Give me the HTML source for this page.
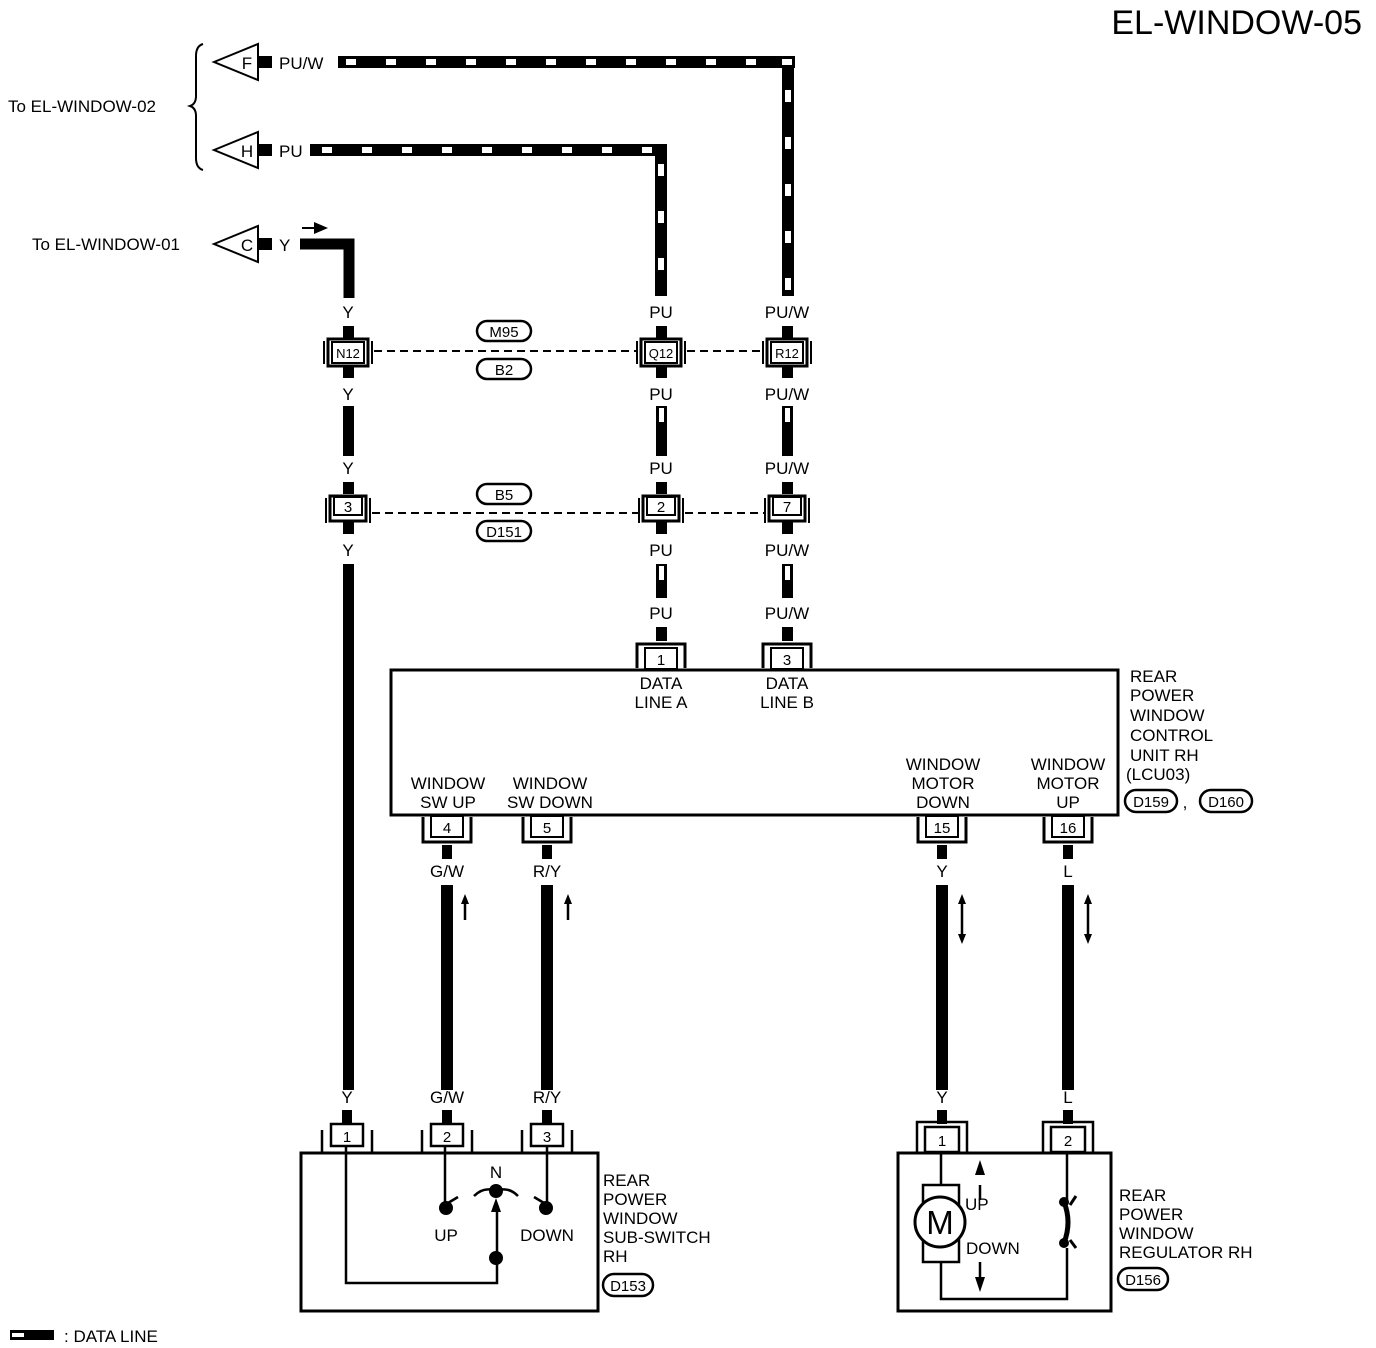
<!DOCTYPE html>
<html><head><meta charset="utf-8"><style>
body{margin:0;background:#fff}
svg{display:block}
text{font-family:"Liberation Sans",sans-serif;fill:#000}
.t{font-size:17px;text-anchor:middle}
.l{font-size:17px}
.s{font-size:15px;text-anchor:middle}
.xs{font-size:13px;text-anchor:middle}
</style></head><body>
<svg width="1376" height="1348" viewBox="0 0 1376 1348" xmlns="http://www.w3.org/2000/svg">
<text x="1362" y="34" style="font-size:34px" text-anchor="end">EL-WINDOW-05</text>

<path d="M203 44 Q196 46 196 56 L196 96 Q196 104 190 106 Q196 108 196 116 L196 158 Q196 168 203 170" fill="none" stroke="#000" stroke-width="2"/>
<text x="8" y="112" class="l">To EL-WINDOW-02</text>
<text x="32" y="250" class="l">To EL-WINDOW-01</text>

<path d="M214 62 L258 44 L258 80 Z" fill="#fff" stroke="#000" stroke-width="2"/>
<text x="247" y="69" class="t">F</text>
<rect x="258" y="56" width="14" height="12"/>
<text x="279" y="69" class="l">PU/W</text>
<rect x="338" y="56" width="457" height="12"/>
<rect x="782" y="56" width="12" height="240"/>
<g fill="#fff">
<rect x="346" y="59" width="10" height="6"/><rect x="386" y="59" width="10" height="6"/><rect x="426" y="59" width="10" height="6"/><rect x="466" y="59" width="10" height="6"/><rect x="506" y="59" width="10" height="6"/><rect x="546" y="59" width="10" height="6"/><rect x="586" y="59" width="10" height="6"/><rect x="626" y="59" width="10" height="6"/><rect x="666" y="59" width="10" height="6"/><rect x="706" y="59" width="10" height="6"/><rect x="746" y="59" width="10" height="6"/><rect x="782" y="59" width="10" height="6"/>
<rect x="785" y="90" width="6" height="12"/><rect x="785" y="137" width="6" height="12"/><rect x="785" y="184" width="6" height="12"/><rect x="785" y="231" width="6" height="12"/><rect x="785" y="278" width="6" height="12"/>
</g>

<path d="M214 150 L258 132 L258 168 Z" fill="#fff" stroke="#000" stroke-width="2"/>
<text x="247" y="157" class="t">H</text>
<rect x="258" y="144" width="14" height="12"/>
<text x="279" y="157" class="l">PU</text>
<rect x="310" y="144" width="357" height="12"/>
<rect x="655" y="144" width="12" height="152"/>
<g fill="#fff">
<rect x="322" y="147" width="10" height="6"/><rect x="362" y="147" width="10" height="6"/><rect x="402" y="147" width="10" height="6"/><rect x="442" y="147" width="10" height="6"/><rect x="482" y="147" width="10" height="6"/><rect x="522" y="147" width="10" height="6"/><rect x="562" y="147" width="10" height="6"/><rect x="602" y="147" width="10" height="6"/><rect x="642" y="147" width="10" height="6"/>
<rect x="658" y="164" width="6" height="12"/><rect x="658" y="211" width="6" height="12"/><rect x="658" y="258" width="6" height="12"/>
</g>

<path d="M214 244 L258 226 L258 262 Z" fill="#fff" stroke="#000" stroke-width="2"/>
<text x="247" y="251" class="t">C</text>
<rect x="258" y="238" width="14" height="12"/>
<text x="279" y="251" class="l">Y</text>
<path d="M300 244 L349 244 L349 298" fill="none" stroke="#000" stroke-width="11"/>
<path d="M302 228 L316 228" stroke="#000" stroke-width="2"/><path d="M314 222 L328 228 L314 234 Z"/>

<text x="348" y="318" class="t">Y</text><text x="661" y="318" class="t">PU</text><text x="787" y="318" class="t">PU/W</text>
<text x="348" y="400" class="t">Y</text><text x="661" y="400" class="t">PU</text><text x="787" y="400" class="t">PU/W</text>
<text x="348" y="474" class="t">Y</text><text x="661" y="474" class="t">PU</text><text x="787" y="474" class="t">PU/W</text>
<text x="348" y="556" class="t">Y</text><text x="661" y="556" class="t">PU</text><text x="787" y="556" class="t">PU/W</text>
<text x="661" y="619" class="t">PU</text><text x="787" y="619" class="t">PU/W</text>

<g>
<rect x="343" y="326" width="11" height="12"/><rect x="343" y="366" width="11" height="12"/>
<rect x="656" y="326" width="11" height="12"/><rect x="656" y="366" width="11" height="12"/>
<rect x="782" y="326" width="11" height="12"/><rect x="782" y="366" width="11" height="12"/>
<rect x="343" y="406" width="11" height="50"/>
<rect x="656" y="406" width="11" height="50"/><rect x="659" y="408" width="5" height="14" fill="#fff"/>
<rect x="782" y="406" width="11" height="50"/><rect x="785" y="408" width="5" height="14" fill="#fff"/>
<rect x="343" y="482" width="11" height="12"/><rect x="343" y="522" width="11" height="12"/>
<rect x="656" y="482" width="11" height="12"/><rect x="656" y="522" width="11" height="12"/>
<rect x="782" y="482" width="11" height="12"/><rect x="782" y="522" width="11" height="12"/>
<rect x="343" y="564" width="11" height="526"/>
<rect x="656" y="564" width="11" height="34"/><rect x="659" y="566" width="5" height="14" fill="#fff"/>
<rect x="782" y="564" width="11" height="34"/><rect x="785" y="566" width="5" height="14" fill="#fff"/>
<rect x="656" y="627" width="11" height="14"/><rect x="782" y="627" width="11" height="14"/>
</g>

<g fill="#fff" stroke="#000" stroke-width="2">
<rect x="328" y="339" width="40" height="27" stroke-width="3"/><rect x="332" y="342" width="32" height="21"/>
<rect x="641" y="339" width="40" height="27" stroke-width="3"/><rect x="645" y="342" width="32" height="21"/>
<rect x="767" y="339" width="40" height="27" stroke-width="3"/><rect x="771" y="342" width="32" height="21"/>
<rect x="330" y="496" width="36" height="25" stroke-width="3"/><rect x="334" y="497" width="28" height="18"/>
<rect x="643" y="496" width="36" height="25" stroke-width="3"/><rect x="647" y="497" width="28" height="18"/>
<rect x="769" y="496" width="36" height="25" stroke-width="3"/><rect x="773" y="497" width="28" height="18"/>
</g>
<g fill="none" stroke="#000" stroke-width="2">
<path d="M324 341 V364 M372 341 V364 M637 341 V364 M685 341 V364 M763 341 V364 M811 341 V364"/>
<path d="M326 498 V523 M370 498 V523 M639 498 V523 M683 498 V523 M765 498 V523 M809 498 V523"/>
</g>
<text x="348" y="358" class="xs">N12</text><text x="661" y="358" class="xs">Q12</text><text x="787" y="358" class="xs">R12</text>
<text x="348" y="512" class="s">3</text><text x="661" y="512" class="s">2</text><text x="787" y="512" class="s">7</text>
<path d="M374 351 H637 M687 351 H763 M372 513 H639 M685 513 H765" stroke="#000" stroke-width="2" stroke-dasharray="8 5"/>
<g fill="#fff" stroke="#000" stroke-width="2.5">
<rect x="477" y="321" width="54" height="20" rx="10"/><rect x="477" y="359" width="54" height="20" rx="10"/>
<rect x="477" y="484" width="54" height="20" rx="10"/><rect x="477" y="521" width="54" height="20" rx="10"/>
</g>
<text x="504" y="337" class="s">M95</text><text x="504" y="375" class="s">B2</text>
<text x="504" y="500" class="s">B5</text><text x="504" y="537" class="s">D151</text>

<rect x="391" y="670" width="727" height="145" fill="none" stroke="#000" stroke-width="3"/>
<g fill="#fff" stroke="#000" stroke-width="2">
<path d="M637 668 V644 H685 V668" fill="none" stroke-width="3"/><rect x="645" y="648" width="32" height="21"/>
<path d="M763 668 V644 H811 V668" fill="none" stroke-width="3"/><rect x="771" y="648" width="32" height="21"/>
<path d="M423 817 V842 H471 V817" fill="none" stroke-width="3"/><rect x="431" y="816" width="32" height="21"/>
<path d="M523 817 V842 H571 V817" fill="none" stroke-width="3"/><rect x="531" y="816" width="32" height="21"/>
<path d="M918 817 V842 H966 V817" fill="none" stroke-width="3"/><rect x="926" y="816" width="32" height="21"/>
<path d="M1044 817 V842 H1092 V817" fill="none" stroke-width="3"/><rect x="1052" y="816" width="32" height="21"/>
</g>
<text x="661" y="665" class="s">1</text><text x="787" y="665" class="s">3</text>
<text x="447" y="833" class="s">4</text><text x="547" y="833" class="s">5</text>
<text x="942" y="833" class="s">15</text><text x="1068" y="833" class="s">16</text>
<text x="661" y="689" class="t">DATA</text><text x="661" y="708" class="t">LINE A</text>
<text x="787" y="689" class="t">DATA</text><text x="787" y="708" class="t">LINE B</text>
<text x="448" y="789" class="t">WINDOW</text><text x="448" y="808" class="t">SW UP</text>
<text x="550" y="789" class="t">WINDOW</text><text x="550" y="808" class="t">SW DOWN</text>
<text x="943" y="770" class="t">WINDOW</text><text x="943" y="789" class="t">MOTOR</text><text x="943" y="808" class="t">DOWN</text>
<text x="1068" y="770" class="t">WINDOW</text><text x="1068" y="789" class="t">MOTOR</text><text x="1068" y="808" class="t">UP</text>
<text x="1130" y="682" class="l">REAR</text><text x="1130" y="701" class="l">POWER</text><text x="1130" y="721" class="l">WINDOW</text><text x="1130" y="741" class="l">CONTROL</text><text x="1130" y="761" class="l">UNIT RH</text><text x="1126" y="780" class="l">(LCU03)</text>
<rect x="1125" y="790" width="52" height="22" rx="11" fill="#fff" stroke="#000" stroke-width="2.5"/>
<rect x="1200" y="790" width="52" height="22" rx="11" fill="#fff" stroke="#000" stroke-width="2.5"/>
<text x="1151" y="807" class="s">D159</text><text x="1185" y="808" class="t">,</text><text x="1226" y="807" class="s">D160</text>

<rect x="442" y="845" width="10" height="14"/><rect x="542" y="845" width="10" height="14"/><rect x="937" y="845" width="10" height="14"/><rect x="1063" y="845" width="10" height="14"/>
<text x="447" y="877" class="t">G/W</text><text x="547" y="877" class="t">R/Y</text><text x="942" y="877" class="t">Y</text><text x="1068" y="877" class="t">L</text>
<rect x="441" y="885" width="12" height="205"/><rect x="541" y="885" width="12" height="205"/><rect x="936" y="885" width="12" height="205"/><rect x="1062" y="885" width="12" height="205"/>
<g stroke="#000" stroke-width="2.5">
<path d="M465 920 V900 M568 920 V900 M962 935 V902 M1088 935 V902"/>
</g>
<path d="M461 904 L465 894 L469 904Z M564 904 L568 894 L572 904Z M958 904 L962 894 L966 904Z M958 934 L962 944 L966 934Z M1084 904 L1088 894 L1092 904Z M1084 934 L1088 944 L1092 934Z"/>
<text x="347" y="1103" class="t">Y</text><text x="447" y="1103" class="t">G/W</text><text x="547" y="1103" class="t">R/Y</text><text x="942" y="1103" class="t">Y</text><text x="1068" y="1103" class="t">L</text>
<rect x="342" y="1110" width="10" height="14"/><rect x="442" y="1110" width="10" height="14"/><rect x="542" y="1110" width="10" height="14"/><rect x="937" y="1110" width="10" height="14"/><rect x="1063" y="1110" width="10" height="14"/>

<rect x="301" y="1153" width="297" height="158" fill="none" stroke="#000" stroke-width="3"/>
<g fill="#fff" stroke="#000" stroke-width="2.5">
<rect x="331" y="1124" width="32" height="22"/><rect x="431" y="1124" width="32" height="22"/><rect x="531" y="1124" width="32" height="22"/>
</g>
<path d="M322 1130 V1153 M372 1130 V1153 M422 1130 V1153 M472 1130 V1153 M522 1130 V1153 M572 1130 V1153" stroke="#000" stroke-width="2.5"/>
<text x="347" y="1142" class="s">1</text><text x="447" y="1142" class="s">2</text><text x="547" y="1142" class="s">3</text>
<g fill="none" stroke="#000" stroke-width="2.5">
<path d="M346 1146 V1283 H497 V1208"/>
<path d="M445 1146 V1206 M547 1146 V1206"/>
<path d="M474 1196 Q484 1186 496 1191 Q508 1186 518 1196"/>
<path d="M448 1203 L458 1197 M544 1203 L534 1197"/>
</g>
<circle cx="446" cy="1208" r="7"/><circle cx="546" cy="1208" r="7"/><circle cx="496" cy="1191" r="7"/><circle cx="496" cy="1258" r="7"/>
<path d="M491 1212 L496 1198 L501 1212Z"/>
<text x="496" y="1178" class="t">N</text>
<text x="446" y="1241" class="t">UP</text><text x="547" y="1241" class="t">DOWN</text>
<text x="603" y="1186" class="l">REAR</text><text x="603" y="1205" class="l">POWER</text><text x="603" y="1224" class="l">WINDOW</text><text x="603" y="1243" class="l">SUB-SWITCH</text><text x="603" y="1262" class="l">RH</text>
<rect x="603" y="1274" width="50" height="22" rx="11" fill="#fff" stroke="#000" stroke-width="2.5"/>
<text x="628" y="1291" class="s">D153</text>

<rect x="898" y="1153" width="213" height="158" fill="none" stroke="#000" stroke-width="3"/>
<g fill="#fff" stroke="#000" stroke-width="2.5">
<path d="M917 1153 V1122 H967 V1153" fill="none"/><rect x="925" y="1127" width="34" height="25"/>
<path d="M1043 1153 V1122 H1093 V1153" fill="none"/><rect x="1051" y="1127" width="34" height="25"/>
</g>
<text x="942" y="1146" class="s">1</text><text x="1068" y="1146" class="s">2</text>
<g fill="none" stroke="#000" stroke-width="2.5">
<path d="M941 1153 V1185 M941 1262 V1299 H1067 V1248 M1067 1153 V1200"/>
<rect x="923" y="1185" width="36" height="77"/>
</g>
<circle cx="940" cy="1222" r="25" fill="#fff" stroke="#000" stroke-width="3"/>
<text x="940" y="1234" style="font-size:33px;text-anchor:middle">M</text>
<circle cx="1064" cy="1202" r="5"/><circle cx="1064" cy="1243" r="5"/>
<path d="M1064 1202 Q1072 1222 1064 1243" fill="none" stroke="#000" stroke-width="5"/>
<path d="M1070 1205 L1076 1196 M1070 1240 L1076 1248" stroke="#000" stroke-width="3"/>
<path d="M980 1185 V1200 M980 1262 V1280" stroke="#000" stroke-width="2.5"/>
<path d="M975 1175 L980 1160 L985 1175Z M975 1277 L980 1292 L985 1277Z"/>
<text x="965" y="1210" class="l">UP</text><text x="966" y="1254" class="l">DOWN</text>
<text x="1119" y="1201" class="l">REAR</text><text x="1119" y="1220" class="l">POWER</text><text x="1119" y="1239" class="l">WINDOW</text><text x="1119" y="1258" class="l">REGULATOR RH</text>
<rect x="1118" y="1268" width="50" height="22" rx="11" fill="#fff" stroke="#000" stroke-width="2.5"/>
<text x="1143" y="1285" class="s">D156</text>

<rect x="10" y="1330" width="44" height="10"/><rect x="12" y="1333" width="12" height="4" fill="#fff"/>
<text x="64" y="1342" class="l">: DATA LINE</text>
</svg>
</body></html>
